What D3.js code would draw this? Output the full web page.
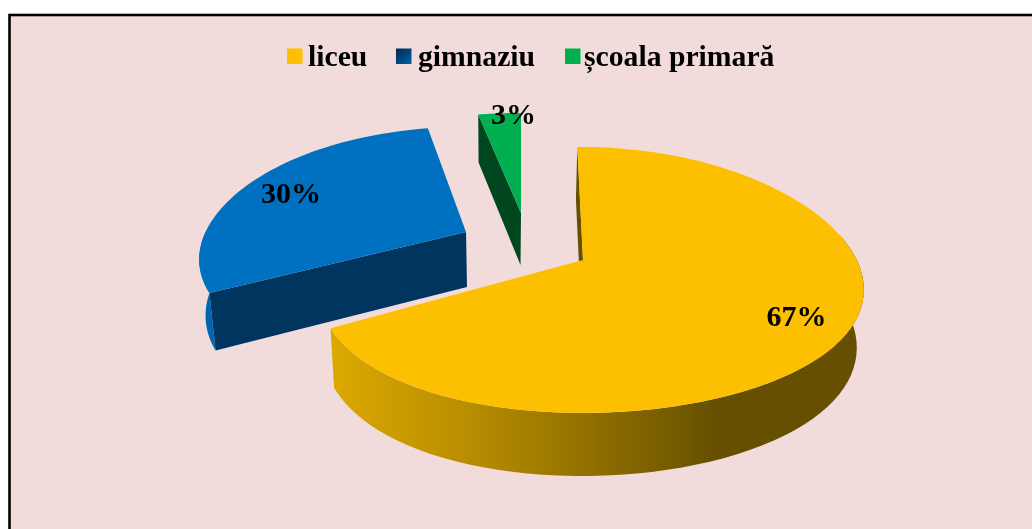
<!DOCTYPE html>
<html><head><meta charset="utf-8">
<script src="https://cdnjs.cloudflare.com/ajax/libs/d3/7.8.5/d3.min.js"></script>
<style>html,body{margin:0;padding:0;background:#fff;overflow:hidden}svg{display:block}</style>
</head><body><div id="chart"></div>
<script>
const categories = ["liceu", "gimnaziu", "școala primară"];
const values = [67, 30, 3];
const labels = ["67%", "30%", "3%"];
const topColors = ["#FDC000", "#0070C0", "#00B050"];
const wallColors = ["#665000", "#00355F", "#00471F"];
const outerColors = ["url(#wallY)", "#0066AE", "#00471F"];
const W = 1032, H = 529;
// layout of the exploded slices
const apexes = [[583,260],[466,232],[521,213]];
const radiiX = [1, 1.01, 1.05];
const radiiY = [1, .93, .885];
const startNudge = [0, 2.3, 1.5];
const endNudge = [1.2, 2.3, 1.5];
const depths = [57, 55, 52];
const baseShift = [-1.5, 1, -.5];
const labelPos = [[796.5,326],[291,203],[513.5,124]];
const legendSwatch = [287,396,565];
const legendText = [308,418,584];

const svg = d3.select("#chart").append("svg").attr("width",W).attr("height",H);
const defs = svg.append("defs");
const gy = defs.append("linearGradient").attr("id","wallY").attr("gradientUnits","userSpaceOnUse")
  .attr("x1",331).attr("x2",864).attr("y1",0).attr("y2",0);
[[0,"#DDA800"],[.25,"#B98E00"],[.5,"#8F6E00"],[.72,"#665000"],[1,"#664F00"]]
  .forEach(s=>gy.append("stop").attr("offset",s[0]).attr("stop-color",s[1]));
const gb = defs.append("linearGradient").attr("id","swB").attr("x1",0).attr("x2",1).attr("y1",0).attr("y2",1);
gb.append("stop").attr("offset",0).attr("stop-color","#00294D");
gb.append("stop").attr("offset",1).attr("stop-color","#0060A8");
defs.append("filter").attr("id","soft").append("feGaussianBlur").attr("stdDeviation",.45);

// page panel and frame
svg.append("rect").attr("x",9.5).attr("y",15).attr("width",W).attr("height",H)
  .attr("fill","#F2DCDB").attr("stroke","#000").attr("stroke-width",2.6);

// d3 pie gives the angles; the projection maps them to the tilted plane
const pie = d3.pie().sort(null).startAngle(-1.5*Math.PI/180).endAngle((360-1.5)*Math.PI/180);
const arcs = pie(values);
const kY = .15, kX = .22, m = .03, A = 130, B = 265.6;
const sx = d3.scaleLinear().domain([-1,1]).range([-B,B]);
const sy = d3.scaleLinear().domain([-1,1]).range([-A,A]);
function proj(theta, i){
  const u = Math.sin(theta), v = -Math.cos(theta);
  return [sx(u)*radiiX[i]/(1-kX*v-m*u), sy(v)*radiiY[i]/(1-kY*v)];
}
const line = d3.line();
const topPt = (i,t)=>{const p=proj(t,i);return [apexes[i][0]+p[0],apexes[i][1]+p[1]];};
const botPt = (i,t)=>{const p=proj(t,i);return [apexes[i][0]+baseShift[i]+p[0]*.98,apexes[i][1]+depths[i]+p[1]*1.04];};
const bApex = i=>[apexes[i][0]+baseShift[i],apexes[i][1]+depths[i]];
const angles = (a,b)=>d3.range(0,61).map(j=>a+(b-a)*j/60);
const rad = Math.PI/180;

[2,1,0].forEach(i=>{
  const d = arcs[i], a0 = d.startAngle+startNudge[i]*rad, a1 = d.endAngle+endNudge[i]*rad;
  const g = svg.append("g");
  // outer wall (only the near half of the rim is seen)
  const visA = Math.max(a0, Math.PI/2-0.2), visB = Math.min(a1, 3*Math.PI/2);
  if(i<2){
    const ts = angles(visA,visB);
    g.append("path").attr("d",line(ts.map(t=>topPt(i,t)).concat(ts.slice().reverse().map(t=>botPt(i,t))))+"Z")
      .attr("fill",outerColors[i]);
  }
  // cut-face wall
  g.append("path").attr("d",line([topPt(i,a0),botPt(i,a0),bApex(i),apexes[i]])+"Z").attr("fill",wallColors[i]);
  // top surface
  g.append("path").attr("d",line([apexes[i]].concat(angles(a0,a1).map(t=>topPt(i,t))))+"Z").attr("fill",topColors[i]);
});

const font = "'Liberation Serif','Times New Roman',serif";
// legend
const lg = svg.append("g").attr("filter","url(#soft)");
categories.forEach((c,i)=>{
  lg.append("rect").attr("x",legendSwatch[i]).attr("y",48.5).attr("width",15.5).attr("height",15.5)
    .attr("fill",i===1?"url(#swB)":topColors[i]);
  lg.append("text").attr("x",legendText[i]).attr("y",66).attr("font-family",font).attr("font-weight","bold")
    .attr("font-size",29.7).attr("fill","#000").text(c);
});
// value labels
labels.forEach((t,i)=>{
  lg.append("text").attr("x",labelPos[i][0]).attr("y",labelPos[i][1]).attr("text-anchor","middle")
    .attr("font-family",font).attr("font-weight","bold").attr("font-size",30).attr("fill","#000").text(t);
});
</script></body></html>
